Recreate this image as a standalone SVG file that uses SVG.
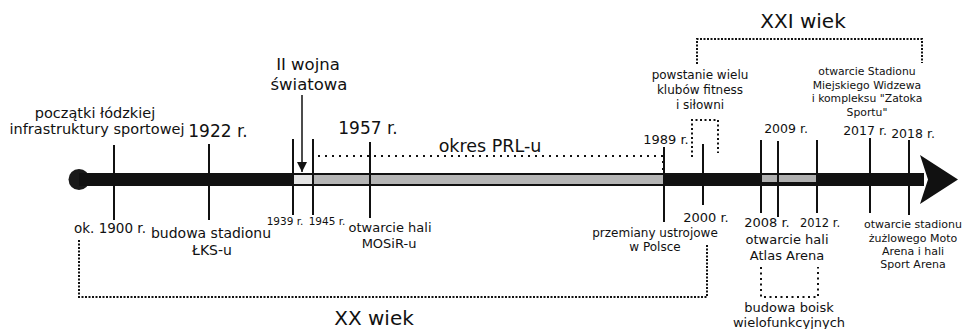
<svg xmlns="http://www.w3.org/2000/svg" width="963" height="329" viewBox="0 0 963 329">
<style>
text{font-family:"DejaVu Sans","Liberation Sans",sans-serif;fill:#111;text-anchor:middle}
.tick{stroke:#111;stroke-width:2;fill:none}
.dot{stroke:#111;stroke-width:2;fill:none}
.d1{stroke-dasharray:2 1.5}
.d2{stroke-dasharray:2 5}
.d3{stroke-dasharray:2 2.5}
.d4{stroke-dasharray:2 3.5}
</style>
<defs>
<marker id="ah" viewBox="0 0 10 10" refX="10" refY="5" markerWidth="10" markerHeight="10" markerUnits="userSpaceOnUse" orient="auto">
<path d="M0,0 L10,5 L0,10 Z" fill="#111"/>
</marker>
</defs>
<rect width="963" height="329" fill="#fff"/>

<g id="axis">
<circle cx="79" cy="179.5" r="10.5" fill="#1a1a1a"/>
<rect x="79" y="173" width="845" height="13" fill="#111"/>
<polygon points="920,155 958,179.5 920,204 928,179.5" fill="#111"/>
<rect x="294" y="175" width="18" height="9" fill="#e4e4e4"/>
<rect x="314" y="175" width="349" height="9" fill="#b5b5b5"/>
<rect x="762" y="175" width="54" height="7" fill="#b0b0b0"/>
</g>

<g id="e1900">
<line class="tick" x1="114" y1="145" x2="114" y2="220"/>
<text x="95" y="118" font-size="14.5">początki łódzkiej</text>
<text x="97" y="134" font-size="14.5">infrastruktury sportowej</text>
<text x="110" y="233" font-size="13.5">ok. 1900 r.</text>
</g>

<g id="e1922">
<line class="tick" x1="209" y1="144" x2="209" y2="220"/>
<text x="218" y="137" font-size="17">1922 r.</text>
<text x="211" y="238" font-size="14">budowa stadionu</text>
<text x="212" y="255" font-size="14">ŁKS-u</text>
</g>

<g id="e1939">
<line class="tick" x1="293" y1="139" x2="293" y2="215"/>
<text x="285" y="225" font-size="10.5">1939 r.</text>
<text x="308" y="70" font-size="16.5">II wojna</text>
<text x="309" y="90" font-size="16.5">światowa</text>
</g>

<g id="e1945">
<line class="tick" x1="313" y1="139" x2="313" y2="215"/>
<text x="327" y="225" font-size="10.5">1945 r.</text>
</g>

<g id="e1957">
<line class="tick" x1="370" y1="142" x2="370" y2="218"/>
<text x="368" y="134" font-size="17">1957 r.</text>
<text x="390" y="232" font-size="13">otwarcie hali</text>
<text x="389" y="248" font-size="13">MOSiR-u</text>
</g>

<g id="prl">
<text x="490" y="152" font-size="17.5">okres PRL-u</text>
</g>

<g id="e1989">
<line class="tick" x1="664" y1="147" x2="664" y2="222"/>
<text x="666" y="144" font-size="13">1989 r.</text>
<text x="655" y="237" font-size="12">przemiany ustrojowe</text>
<text x="655" y="251" font-size="12">w Polsce</text>
</g>

<g id="e2000">
<line class="tick" x1="703" y1="144" x2="703" y2="205"/>
<text x="706" y="222" font-size="13">2000 r.</text>
<text x="700" y="79" font-size="12">powstanie wielu</text>
<text x="700" y="94" font-size="12">klubów fitness</text>
<text x="700" y="109" font-size="12">i siłowni</text>
</g>

<g id="e2008">
<line class="tick" x1="761" y1="140" x2="761" y2="213"/>
<text x="767" y="227" font-size="13">2008 r.</text>
<text x="787" y="244" font-size="13">otwarcie hali</text>
<text x="787" y="260" font-size="13">Atlas Arena</text>
</g>

<g id="e2009">
<line class="tick" x1="778" y1="141" x2="778" y2="217"/>
<text x="786" y="133" font-size="12.5">2009 r.</text>
</g>

<g id="e2012">
<line class="tick" x1="817" y1="140" x2="817" y2="213"/>
<text x="820" y="227" font-size="11.5">2012 r.</text>
<text x="789" y="312" font-size="13">budowa boisk</text>
<text x="789" y="327" font-size="13">wielofunkcyjnych</text>
</g>

<g id="e2017">
<line class="tick" x1="870" y1="138" x2="870" y2="213"/>
<text x="865" y="135" font-size="12.5">2017 r.</text>
<text x="867" y="75" font-size="10.8">otwarcie Stadionu</text>
<text x="867" y="88.5" font-size="10.8">Miejskiego Widzewa</text>
<text x="867" y="102" font-size="10.8">i kompleksu "Zatoka</text>
<text x="867" y="115.5" font-size="10.8">Sportu"</text>
</g>

<g id="e2018">
<line class="tick" x1="909" y1="140" x2="909" y2="215"/>
<text x="913" y="138" font-size="12.5">2018 r.</text>
<text x="913" y="228" font-size="11">otwarcie stadionu</text>
<text x="913" y="241.5" font-size="11">żużlowego Moto</text>
<text x="913" y="255" font-size="11">Arena i hali</text>
<text x="913" y="268" font-size="11">Sport Arena</text>
</g>

<g id="xx">
<text x="374" y="325" font-size="20">XX wiek</text>
</g>
<g id="xxi">
<text x="803" y="28" font-size="20">XXI wiek</text>
</g>

<g id="connectors">
<line x1="302" y1="95" x2="302" y2="172" stroke="#111" stroke-width="1.5" marker-end="url(#ah)"/>
<polyline class="dot d2" points="313,172 313,156 663,156 663,172"/>
<polyline class="dot d1" points="79,240 79,297 707,297 707,245"/>
<polyline class="dot d1" points="697,64 697,39 922,39 922,63" stroke-width="1.5"/>
<polyline class="dot d3" points="692,157 692,120 718,120 718,153"/>
<polyline class="dot d4" points="761,267 761,297 818,297 818,267"/>
</g>
</svg>
